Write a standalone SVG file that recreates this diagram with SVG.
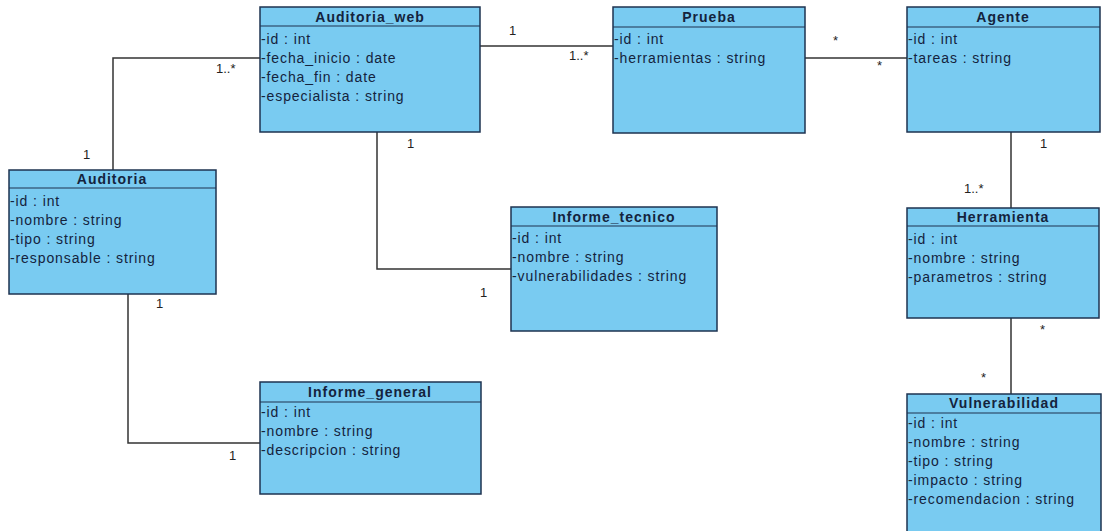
<svg xmlns="http://www.w3.org/2000/svg" width="1105" height="531" viewBox="0 0 1105 531">
  <style>
    .box { fill: #79cbf1; stroke: #1e3350; stroke-width: 1.5; }
    .sep { stroke: #1e3350; stroke-width: 1.2; }
    .title { font-family: "Liberation Sans", Arial, sans-serif; font-size: 14px; font-weight: bold; fill: #14233d; text-anchor: middle; letter-spacing: 1px; }
    .attr { font-family: "Liberation Sans", Arial, sans-serif; font-size: 14px; fill: #14233d; letter-spacing: 0.9px; }
    .link { fill: none; stroke: #333333; stroke-width: 1.5; }
    .mult { font-family: "Liberation Sans", Arial, sans-serif; font-size: 13px; fill: #222222; }
  </style>
  <rect width="1105" height="531" fill="#ffffff"/>

  <!-- associations -->
  <g id="connectors">
    <polyline class="link" points="113,170 113,58 260,58"/>
    <line class="link" x1="480" y1="46" x2="613" y2="46"/>
    <line class="link" x1="805" y1="58" x2="907" y2="58"/>
    <polyline class="link" points="377,132 377,269 511,269"/>
    <polyline class="link" points="128,294 128,443 260,443"/>
    <line class="link" x1="1011" y1="132" x2="1011" y2="208"/>
    <line class="link" x1="1011" y1="318" x2="1011" y2="394"/>

    <text class="mult" x="83" y="159">1</text>
    <text class="mult" x="216" y="73">1..*</text>
    <text class="mult" x="509" y="35">1</text>
    <text class="mult" x="569" y="60">1..*</text>
    <text class="mult" x="833" y="45">*</text>
    <text class="mult" x="877" y="70">*</text>
    <text class="mult" x="407" y="148">1</text>
    <text class="mult" x="480" y="297">1</text>
    <text class="mult" x="156" y="308">1</text>
    <text class="mult" x="229" y="460">1</text>
    <text class="mult" x="1040" y="148">1</text>
    <text class="mult" x="964" y="193">1..*</text>
    <text class="mult" x="1040" y="334">*</text>
    <text class="mult" x="981" y="382">*</text>
  </g>

  <g id="auditoria_web">
    <rect class="box" x="260" y="7" width="220" height="125"/>
    <line class="sep" x1="260" y1="26" x2="480" y2="26"/>
    <text class="title" x="370" y="22">Auditoria_web</text>
    <text class="attr" x="261" y="44">-id : int</text>
    <text class="attr" x="261" y="63">-fecha_inicio : date</text>
    <text class="attr" x="261" y="82">-fecha_fin : date</text>
    <text class="attr" x="261" y="101">-especialista : string</text>
  </g>

  <g id="prueba">
    <rect class="box" x="613" y="7" width="192" height="126"/>
    <line class="sep" x1="613" y1="27" x2="805" y2="27"/>
    <text class="title" x="709" y="22">Prueba</text>
    <text class="attr" x="614" y="44">-id : int</text>
    <text class="attr" x="614" y="63">-herramientas : string</text>
  </g>

  <g id="agente">
    <rect class="box" x="907" y="7" width="193" height="125"/>
    <line class="sep" x1="907" y1="27" x2="1100" y2="27"/>
    <text class="title" x="1003" y="22">Agente</text>
    <text class="attr" x="908" y="44">-id : int</text>
    <text class="attr" x="908" y="63">-tareas : string</text>
  </g>

  <g id="auditoria">
    <rect class="box" x="9" y="170" width="207" height="124"/>
    <line class="sep" x1="9" y1="188" x2="216" y2="188"/>
    <text class="title" x="112" y="184">Auditoria</text>
    <text class="attr" x="10" y="206">-id : int</text>
    <text class="attr" x="10" y="225">-nombre : string</text>
    <text class="attr" x="10" y="244">-tipo : string</text>
    <text class="attr" x="10" y="263">-responsable : string</text>
  </g>

  <g id="informe_tecnico">
    <rect class="box" x="511" y="207" width="206" height="124"/>
    <line class="sep" x1="511" y1="226" x2="717" y2="226"/>
    <text class="title" x="614" y="222">Informe_tecnico</text>
    <text class="attr" x="512" y="243">-id : int</text>
    <text class="attr" x="512" y="262">-nombre : string</text>
    <text class="attr" x="512" y="281">-vulnerabilidades : string</text>
  </g>

  <g id="herramienta">
    <rect class="box" x="907" y="208" width="192" height="110"/>
    <line class="sep" x1="907" y1="226" x2="1099" y2="226"/>
    <text class="title" x="1003" y="222">Herramienta</text>
    <text class="attr" x="908" y="244">-id : int</text>
    <text class="attr" x="908" y="263">-nombre : string</text>
    <text class="attr" x="908" y="282">-parametros : string</text>
  </g>

  <g id="informe_general">
    <rect class="box" x="260" y="382" width="221" height="112"/>
    <line class="sep" x1="260" y1="402" x2="481" y2="402"/>
    <text class="title" x="370" y="397">Informe_general</text>
    <text class="attr" x="261" y="417">-id : int</text>
    <text class="attr" x="261" y="436">-nombre : string</text>
    <text class="attr" x="261" y="455">-descripcion : string</text>
  </g>

  <g id="vulnerabilidad">
    <rect class="box" x="907" y="394" width="194" height="145"/>
    <line class="sep" x1="907" y1="413" x2="1101" y2="413"/>
    <text class="title" x="1004" y="408">Vulnerabilidad</text>
    <text class="attr" x="908" y="428">-id : int</text>
    <text class="attr" x="908" y="447">-nombre : string</text>
    <text class="attr" x="908" y="466">-tipo : string</text>
    <text class="attr" x="908" y="485">-impacto : string</text>
    <text class="attr" x="908" y="504">-recomendacion : string</text>
  </g>
</svg>
